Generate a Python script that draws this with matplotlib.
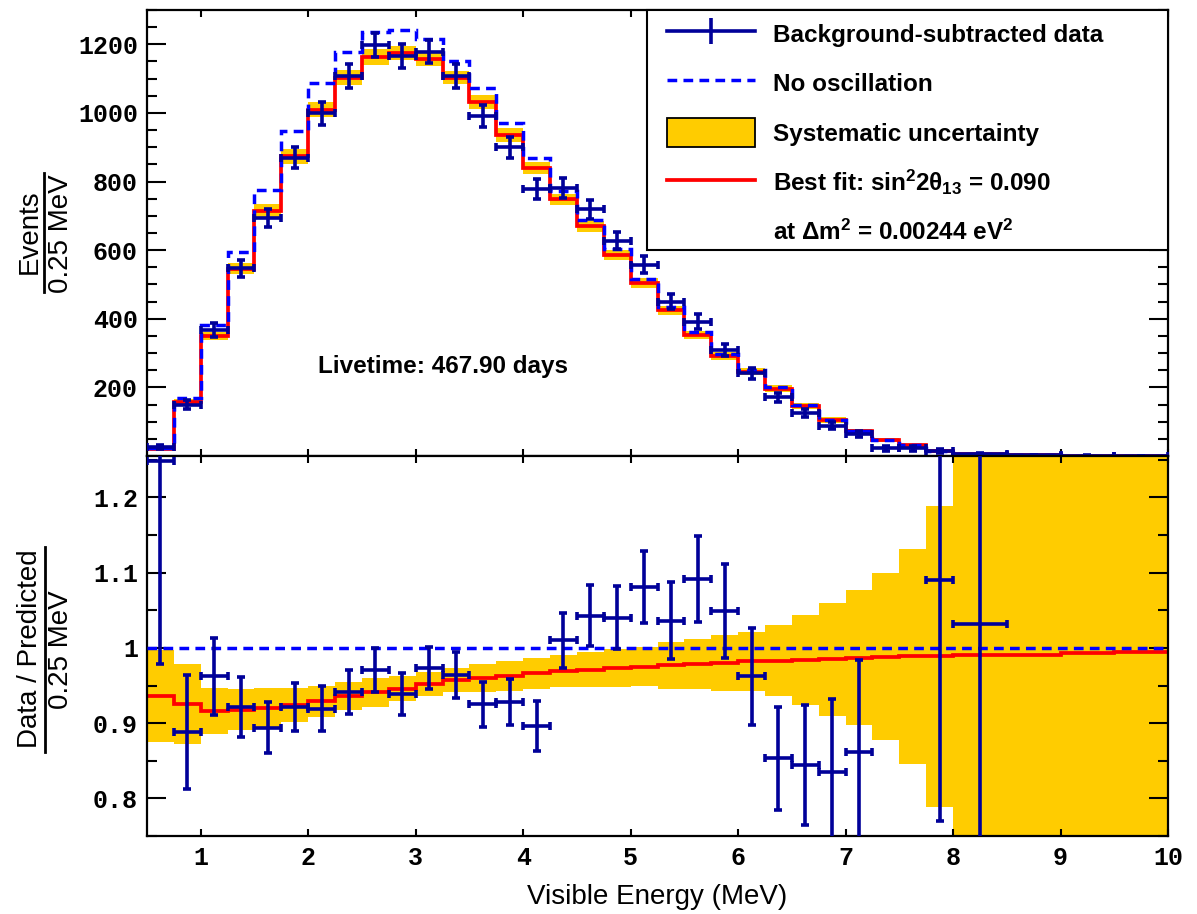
import numpy as np
import matplotlib
matplotlib.use("Agg")
import matplotlib.pyplot as plt
from matplotlib.lines import Line2D
from matplotlib.patches import Patch, Rectangle
from matplotlib.ticker import FixedLocator, MultipleLocator, FixedFormatter
from matplotlib.font_manager import FontProperties

plt.rcParams["mathtext.fontset"] = "custom"
plt.rcParams["mathtext.rm"] = "Liberation Sans:bold"
plt.rcParams["mathtext.it"] = "Liberation Sans:bold"
plt.rcParams["mathtext.bf"] = "Liberation Sans:bold"

# ---------------- data ----------------
bin_edges = [0.50, 0.75, 1.00, 1.25, 1.50, 1.75, 2.00, 2.25, 2.50, 2.75,
             3.00, 3.25, 3.50, 3.75, 4.00, 4.25, 4.50, 4.75, 5.00, 5.25,
             5.50, 5.75, 6.00, 6.25, 6.50, 6.75, 7.00, 7.25, 7.50, 7.75,
             8.00, 8.50, 9.00, 9.50, 10.00]

# no-oscillation prediction (events / 0.25 MeV)
no_osc = [22, 169, 382, 595, 776, 946, 1087, 1178, 1235, 1242,
          1215, 1152, 1074, 972, 868, 772, 689, 603, 517, 435,
          360, 298, 250, 200, 149, 106, 74, 48, 31, 16,
          6, 2.5, 1.2, 0.6]

# best fit / no-oscillation
fit_ratio = [0.936, 0.925, 0.916, 0.918, 0.920, 0.924, 0.929, 0.936, 0.941, 0.946,
             0.952, 0.957, 0.960, 0.963, 0.966, 0.969, 0.971, 0.973, 0.975, 0.977,
             0.979, 0.980, 0.982, 0.983, 0.984, 0.985, 0.987, 0.988, 0.989, 0.989,
             0.990, 0.991, 0.993, 0.994]

# systematic uncertainty (half width, in ratio units)
syst_half = [0.061, 0.053, 0.031, 0.027, 0.027, 0.023, 0.021, 0.019, 0.019, 0.017,
             0.016, 0.016, 0.019, 0.020, 0.020, 0.021, 0.023, 0.025, 0.026, 0.031,
             0.033, 0.037, 0.039, 0.047, 0.060, 0.075, 0.090, 0.111, 0.143, 0.200,
             0.40, 0.55, 0.70, 0.85]

# background-subtracted data (events / 0.25 MeV)
data_counts = [27, 149, 367, 547, 693, 870, 999, 1108, 1198, 1166,
               1179, 1108, 991, 900, 778, 780, 719, 627, 557, 450,
               392, 309, 241, 171, 126, 88, 64, 22, 22, 15,
               6, 2, 1, 0.5]
data_count_err = [6, 13, 19.5, 24, 26, 30, 33, 34, 36, 35,
                  34, 35, 32, 30, 29, 29, 28, 25, 25, 22,
                  21, 18.5, 16, 14, 12, 10, 9, 7, 6, 5,
                  3, 1.5, 1, 0.8]

# data / prediction (None = outside the plotted range)
data_ratio = [1.248, 0.888, 0.962, 0.921, 0.894, 0.921, 0.919, 0.941, 0.971, 0.939,
              0.973, 0.964, 0.925, 0.928, 0.896, 1.010, 1.043, 1.040, 1.081, 1.036,
              1.092, 1.049, 0.962, 0.853, 0.844, 0.835, 0.861, None, None, 1.090,
              1.032, None, None, None]
data_ratio_err = [0.27, 0.076, 0.051, 0.040, 0.034, 0.032, 0.030, 0.029, 0.029, 0.028,
                  0.028, 0.030, 0.030, 0.031, 0.033, 0.037, 0.040, 0.042, 0.048, 0.051,
                  0.057, 0.062, 0.064, 0.069, 0.080, 0.097, 0.123, None, None, 0.32,
                  0.50, None, None, None]

x_ticks = [1, 2, 3, 4, 5, 6, 7, 8, 9, 10]
top_yticks = [200, 400, 600, 800, 1000, 1200]
ratio_yticks = [0.8, 0.9, 1.0, 1.1, 1.2]
ratio_ylabels = ["0.8", "0.9", "1", "1.1", "1.2"]

# ---------------- derived arrays ----------------
edges = np.array(bin_edges)
centers = 0.5 * (edges[:-1] + edges[1:])
half_w = 0.5 * np.diff(edges)
no_osc_a = np.array(no_osc, float)
fit_r = np.array(fit_ratio)
syst = np.array(syst_half)
best_fit = no_osc_a * fit_r
rel_syst = syst / fit_r
band_lo = best_fit * (1 - rel_syst)
band_hi = best_fit * (1 + rel_syst)

r_val = np.array([np.nan if v is None else v for v in data_ratio])
r_err = np.array([np.nan if v is None else v for v in data_ratio_err])
shown = ~np.isnan(r_val)

# ---------------- style ----------------
NAVY = "#000099"
BLUE = "#0000ff"
RED = "#ff0000"
YELLOW = "#ffcc00"
DASH = (0, (2.8, 1.8))
ERR_KW = dict(fmt="none", ecolor=NAVY, elinewidth=2.6, capsize=3, capthick=2.6, zorder=4)
tick_font = FontProperties(family="Liberation Mono", weight="bold", size=18)
text_font = {"family": "Liberation Sans", "weight": "bold", "size": 17.5}

W, H = 1197, 914
fig = plt.figure(figsize=(W / 100, H / 100), dpi=100)
L, R = 147, 1168
ax1 = fig.add_axes([L / W, 1 - 456 / H, (R - L) / W, 446 / H])
ax2 = fig.add_axes([L / W, 1 - 836 / H, (R - L) / W, 380 / H])

# ---------------- spectrum panel ----------------
ax1.stairs(band_hi, edges, baseline=band_lo, fill=True, color=YELLOW, lw=0, zorder=1)
ax1.stairs(best_fit, edges, baseline=None, color=RED, lw=2.7, zorder=2)
ax1.stairs(no_osc_a, edges, baseline=None, color=BLUE, lw=2.5, linestyle=DASH, zorder=3)
ax1.errorbar(centers, data_counts, xerr=half_w, yerr=data_count_err, **ERR_KW)
ax1.set_xlim(0.5, 10)
ax1.set_ylim(0, 1300)
ax1.text(3.256, 262, "Livetime: 467.90 days", ha="center", va="center", **text_font)

# ---------------- ratio panel ----------------
ax2.stairs(fit_r + syst, edges, baseline=fit_r - syst, fill=True, color=YELLOW, lw=0, zorder=1)
ax2.stairs(fit_r, edges, baseline=None, color=RED, lw=2.7, zorder=2)
ax2.axhline(1.0, color=BLUE, lw=2.5, linestyle=DASH, zorder=3)
ax2.errorbar(centers[shown], r_val[shown], xerr=half_w[shown], yerr=r_err[shown], **ERR_KW)
ax2.set_xlim(0.5, 10)
ax2.set_ylim(0.75, 1.255)

# ---------------- axes cosmetics ----------------
ax1.yaxis.set_major_locator(FixedLocator(top_yticks))
ax1.yaxis.set_minor_locator(MultipleLocator(50))
ax2.yaxis.set_major_locator(FixedLocator(ratio_yticks))
ax2.yaxis.set_major_formatter(FixedFormatter(ratio_ylabels))
ax2.yaxis.set_minor_locator(MultipleLocator(0.05))
ax2.set_xticks(x_ticks)
ax2.set_xticklabels([str(t) for t in x_ticks])

for ax in (ax1, ax2):
    for s in ax.spines.values():
        s.set_linewidth(1.6)
    ax.xaxis.set_major_locator(FixedLocator(x_ticks))
    ax.tick_params(axis="x", which="major", direction="in", length=5, width=1.5,
                   top=True, bottom=True, pad=7)
    ax.tick_params(axis="y", which="major", direction="in", length=14, width=1.5,
                   left=True, right=True, pad=6.5)
    ax.tick_params(axis="y", which="minor", direction="in", length=7, width=1.5,
                   left=True, right=True)
    for lab in ax.get_yticklabels() + ax.get_xticklabels():
        lab.set_fontproperties(tick_font)
ax1.tick_params(axis="x", labelbottom=False)

ax2.set_xlabel("Visible Energy (MeV)", family="Liberation Sans", fontsize=20, labelpad=10)

# fraction-style y labels
lab_font = {"family": "Liberation Sans", "fontsize": 20, "rotation": 90,
            "ha": "center", "va": "center"}
fig.text(30 / W, 1 - 232 / H, "Events", **lab_font)
fig.text(61 / W, 1 - 234 / H, "0.25 MeV", **lab_font)
fig.add_artist(Line2D([44 / W, 44 / W], [1 - 173 / H, 1 - 292 / H],
                      transform=fig.transFigure, color="black", lw=2))
fig.text(30 / W, 1 - 649 / H, "Data / Predicted", **lab_font)
fig.text(61 / W, 1 - 650 / H, "0.25 MeV", **lab_font)
fig.add_artist(Line2D([45 / W, 45 / W], [1 - 547 / H, 1 - 752 / H],
                      transform=fig.transFigure, color="black", lw=2))

# ---------------- legend ----------------
ax1.add_patch(Rectangle(((647 - L) / (R - L), (456 - 250) / 446), 1 - (647 - L) / (R - L),
                        1 - (456 - 250) / 446, transform=ax1.transAxes,
                        facecolor="white", edgecolor="black", lw=1.5, zorder=6, clip_on=False))
handles = [
    Line2D([], [], color=NAVY, lw=2.6, marker="|", markersize=19, markeredgewidth=2.6),
    Line2D([], [], color=BLUE, lw=2.5, linestyle=DASH),
    Patch(facecolor=YELLOW, edgecolor="black", lw=1.3),
    Line2D([], [], color=RED, lw=2.7),
    Line2D([], [], color="none"),
]
labels = [
    "Background-subtracted data",
    "No oscillation",
    "Systematic uncertainty",
    r"Best fit: sin$^{2}$2$\theta_{13}$ = 0.090",
    r"at $\Delta$m$^{2}$ = 0.00244 eV$^{2}$",
]
leg = ax1.legend(handles, labels, loc="upper left",
                 bbox_to_anchor=((667 - L) / (R - L), (456 - 20) / 446),
                 frameon=False, borderpad=0, borderaxespad=0, numpoints=1,
                 handlelength=3.6, handleheight=1.4, handletextpad=0.75,
                 labelspacing=0.87,
                 prop={"family": "Liberation Sans", "weight": "bold", "size": 17.5})
leg.set_zorder(7)

fig.savefig("out.png", dpi=100)
